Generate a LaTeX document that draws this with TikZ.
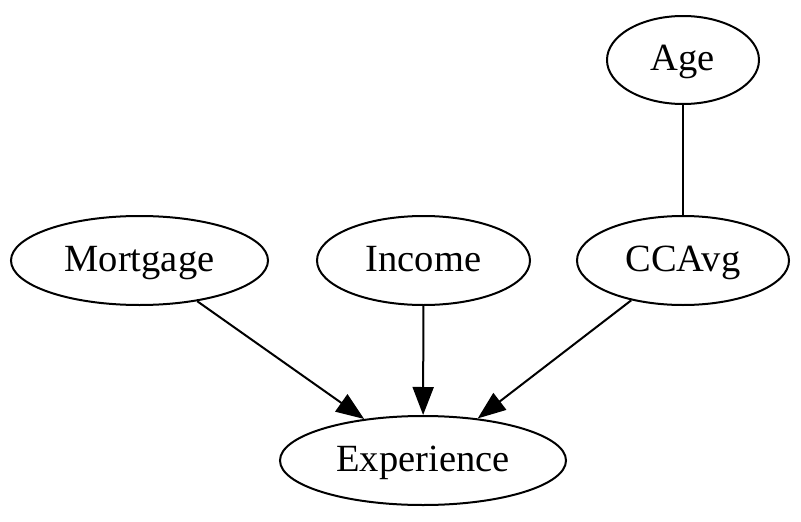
\documentclass[tikz,border=0pt]{standalone}
\usepackage{fontspec}
\setmainfont{Liberation Serif}
\usetikzlibrary{shapes.geometric,arrows.meta}
\begin{document}
\begin{tikzpicture}[x=1pt,y=-1pt,
  vnode/.style={draw,ellipse,line width=2pt,inner sep=0pt,text height=30pt,text depth=9pt,font=\fontsize{38.5}{46}\selectfont},
  edge/.style={line width=2pt},
  arr/.style={edge,-{Triangle[length=28pt,width=21pt]}}]
\useasboundingbox (0,0) rectangle (801,522);
\node[vnode,minimum width=152pt,minimum height=88pt] (age) at (683,60) {Age};
\node[vnode,minimum width=257pt,minimum height=89pt] (mort) at (139.5,260.5) {Mortgage};
\node[vnode,minimum width=213pt,minimum height=89pt] (inc) at (423.5,260.5) {Income};
\node[vnode,minimum width=212pt,minimum height=89pt] (cc) at (683,260.5) {CCAvg};
\node[vnode,minimum width=286pt,minimum height=89pt] (exp) at (423,460.5) {Experience};
\draw[edge] (age) -- (cc);
\draw[arr] (mort) -- (exp);
\draw[arr] (inc) -- (exp);
\draw[arr] (cc) -- (exp);
\end{tikzpicture}
\end{document}
